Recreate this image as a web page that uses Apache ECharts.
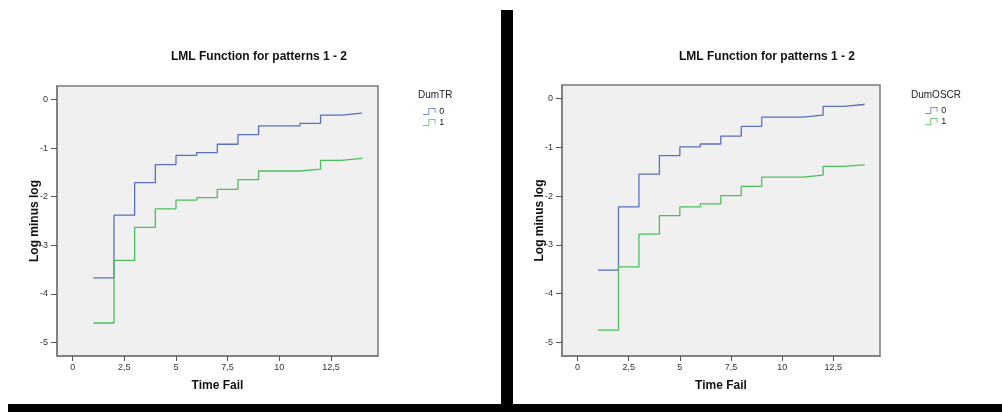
<!DOCTYPE html>
<html>
<head>
<meta charset="utf-8">
<script src="https://cdn.jsdelivr.net/npm/echarts@6/dist/echarts.min.js"></script>
<style>html,body{margin:0;padding:0;background:#fff;}#c{width:1002px;height:412px;}</style>
</head>
<body>
<div id="c"></div>
<script>
// ---- data ----
var times = [1, 2, 3, 4, 5, 6, 7, 8, 9, 10, 11, 12, 13, 14];
var leftBlue  = [-3.67, -2.38, -1.71, -1.34, -1.15, -1.09, -0.92, -0.72, -0.54, -0.54, -0.49, -0.32, -0.28, -0.27];
var leftGreen = [-4.60, -3.31, -2.63, -2.25, -2.07, -2.02, -1.85, -1.65, -1.47, -1.47, -1.43, -1.25, -1.21, -1.19];
var rightBlue  = [-3.52, -2.22, -1.55, -1.17, -0.99, -0.93, -0.77, -0.57, -0.38, -0.38, -0.34, -0.16, -0.12, -0.10];
var rightGreen = [-4.75, -3.45, -2.78, -2.40, -2.22, -2.16, -1.99, -1.80, -1.61, -1.61, -1.57, -1.39, -1.36, -1.34];
var xTicks = [0, 2.5, 5, 7.5, 10, 12.5];
var yTicks = [0, -1, -2, -3, -4, -5];
var seriesNames = ['0', '1'];
var legendTitles = ['DumTR', 'DumOSCR'];
var chartTitle = 'LML Function for patterns 1 - 2';
var xName = 'Time Fail';
var yName = 'Log minus log';

function pairs(xs, ys) { return xs.map(function (x, i) { return [x, ys[i]]; }); }

var FONT = '"Liberation Sans", Arial, sans-serif';
var BLUE = '#5b6fbf', GREEN = '#4cbf5a';
var ICON = 'path://M0,8 L7,8 L7,0 L16,0 L16,6 L15,6 L15,1 L8,1 L8,9 L0,9 Z';

function xAxis(gi) {
  return {
    type: 'value', gridIndex: gi, min: -0.76, max: 14.78,
    name: xName, nameLocation: 'middle', nameGap: 24, nameMoveOverlap: false,
    nameTextStyle: { fontFamily: FONT, fontWeight: 'bold', fontSize: 12, color: '#111' },
    axisLine: { show: true, onZero: false, lineStyle: { color: '#7a7a7a', width: 1.5 } },
    axisTick: { show: true, customValues: xTicks, length: 5, lineStyle: { color: '#555' } },
    axisLabel: { customValues: xTicks, fontFamily: FONT, fontSize: 9, color: '#333', margin: 7,
      formatter: function (v) { return String(v).replace('.', ','); } },
    splitLine: { show: false }
  };
}
function yAxis(gi) {
  return {
    type: 'value', gridIndex: gi, min: -5.28, max: 0.28,
    name: yName, nameLocation: 'middle', nameGap: 16, nameRotate: 90, nameMoveOverlap: false,
    nameTextStyle: { fontFamily: FONT, fontWeight: 'bold', fontSize: 12, color: '#111' },
    axisLine: { show: true, onZero: false, lineStyle: { color: '#7a7a7a', width: 1.5 } },
    axisTick: { show: true, customValues: yTicks, length: 6, lineStyle: { color: '#555' } },
    axisLabel: { customValues: yTicks, fontFamily: FONT, fontSize: 9, color: '#333', margin: 9 },
    splitLine: { show: false }
  };
}
function line(name, data, color, gi) {
  return {
    type: 'line', name: name, xAxisIndex: gi, yAxisIndex: gi, step: 'end',
    data: data, symbol: 'none', color: color,
    lineStyle: { color: color, width: 1.3 }, itemStyle: { color: color }
  };
}

var chart = echarts.init(document.getElementById('c'));
chart.setOption({
  animation: false,
  backgroundColor: '#fff',
  title: [
    { text: chartTitle, left: 254, top: 46, textAlign: 'center',
      textStyle: { fontFamily: FONT, fontWeight: 'bold', fontSize: 12, color: '#111' } },
    { text: chartTitle, left: 762, top: 46, textAlign: 'center',
      textStyle: { fontFamily: FONT, fontWeight: 'bold', fontSize: 12, color: '#111' } },
    { text: legendTitles[0], left: 418, top: 90, padding: 0,
      textStyle: { fontFamily: FONT, fontWeight: 'normal', fontSize: 10, color: '#222' } },
    { text: legendTitles[1], left: 911, top: 90, padding: 0,
      textStyle: { fontFamily: FONT, fontWeight: 'normal', fontSize: 10, color: '#222' } }
  ],
  legend: [
    { data: [{ name: seriesNames[0] }, { name: seriesNames[1] }], orient: 'vertical',
      left: 423, top: 107, padding: 0, itemWidth: 16, itemHeight: 7, itemGap: 2, icon: ICON,
      textStyle: { fontFamily: FONT, fontSize: 9, color: '#222', lineHeight: 8, padding: [0, 0, 0, -3] },
      selectedMode: false },
    { data: [{ name: seriesNames[0] + ' ' }, { name: seriesNames[1] + ' ' }], orient: 'vertical',
      left: 925, top: 106, padding: 0, itemWidth: 16, itemHeight: 7, itemGap: 2, icon: ICON,
      textStyle: { fontFamily: FONT, fontSize: 9, color: '#222', lineHeight: 8, padding: [0, 0, 0, -3] },
      selectedMode: false }
  ],
  grid: [
    { left: 57, top: 86, width: 321, height: 270, show: true, backgroundColor: '#f0f0f0',
      borderColor: '#7a7a7a', borderWidth: 1.5 },
    { left: 562, top: 85, width: 318, height: 271, show: true, backgroundColor: '#f0f0f0',
      borderColor: '#7a7a7a', borderWidth: 1.5 }
  ],
  xAxis: [xAxis(0), xAxis(1)],
  yAxis: [yAxis(0), yAxis(1)],
  series: [
    line(seriesNames[0], pairs(times, leftBlue), BLUE, 0),
    line(seriesNames[1], pairs(times, leftGreen), GREEN, 0),
    line(seriesNames[0] + ' ', pairs(times, rightBlue), BLUE, 1),
    line(seriesNames[1] + ' ', pairs(times, rightGreen), GREEN, 1)
  ],
  graphic: [
    { type: 'rect', shape: { x: 501, y: 10, width: 12, height: 402 }, style: { fill: '#000' }, silent: true },
    { type: 'rect', shape: { x: 8, y: 404, width: 994, height: 8 }, style: { fill: '#000' }, silent: true }
  ]
});
</script>
</body>
</html>
